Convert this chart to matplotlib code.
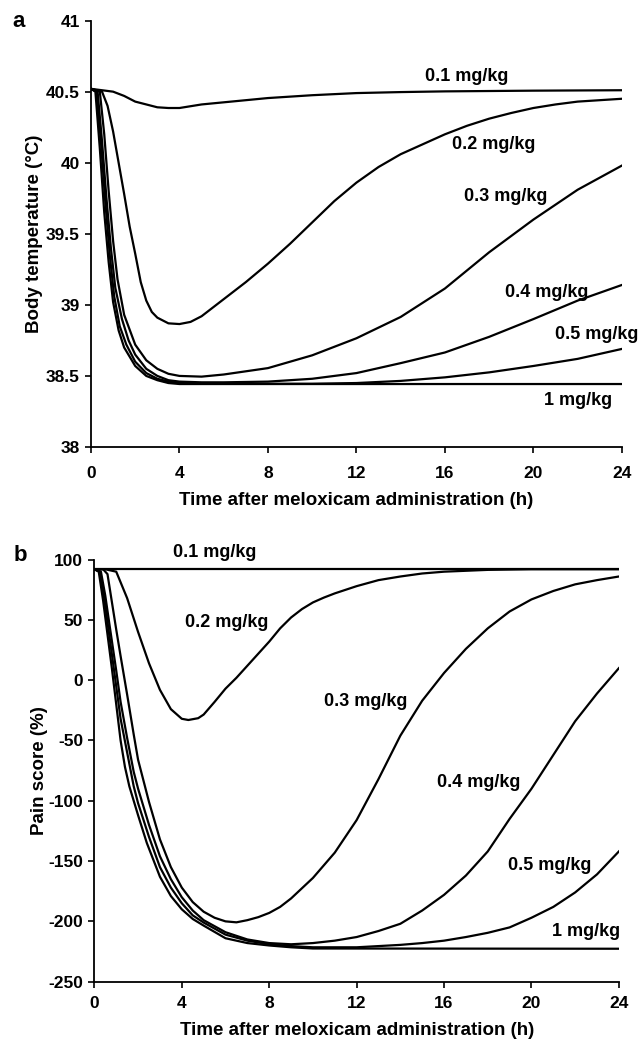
import numpy as np
import matplotlib
matplotlib.use("Agg")
import matplotlib.pyplot as plt

plt.rcParams['font.family'] = ['Liberation Sans', 'DejaVu Sans']
plt.rcParams['font.weight'] = 'bold'
plt.rcParams['axes.unicode_minus'] = False

# ---- panel a : body temperature (deg C) ----
t_01a = [0, 0.5, 1, 1.5, 2, 2.5, 3, 3.5, 4, 5, 6, 8, 10, 12, 14, 16, 20, 24]
T_01 = [40.52, 40.51, 40.5, 40.47, 40.43, 40.41, 40.39, 40.385, 40.385, 40.41, 40.425,
        40.455, 40.475, 40.49, 40.497, 40.502, 40.507, 40.51]

t_02a = [0, 0.5, 0.75, 1, 1.25, 1.5, 1.75, 2, 2.25, 2.5, 2.75, 3, 3.5, 4, 4.5, 5, 6, 7, 8,
         9, 10, 11, 12, 13, 14, 15, 16, 17, 18, 19, 20, 21, 22, 23, 24]
T_02 = [40.52, 40.5, 40.4, 40.22, 40.0, 39.78, 39.55, 39.36, 39.16, 39.03, 38.95, 38.91,
        38.87, 38.865, 38.88, 38.92, 39.04, 39.16, 39.29, 39.43, 39.58, 39.73, 39.86,
        39.97, 40.06, 40.13, 40.2, 40.26, 40.31, 40.35, 40.385, 40.41, 40.43, 40.44, 40.45]

t_03a = [0, 0.4, 0.6, 0.8, 1.0, 1.2, 1.5, 2, 2.5, 3, 3.5, 4, 5, 6, 8, 10, 12, 14, 16, 18,
         20, 22, 24]
T_03 = [40.52, 40.5, 40.2, 39.8, 39.45, 39.18, 38.93, 38.72, 38.61, 38.55, 38.515, 38.5,
        38.495, 38.51, 38.555, 38.645, 38.765, 38.915, 39.115, 39.37, 39.6, 39.81, 39.98]

t_04a = [0, 0.3, 0.5, 0.7, 0.9, 1.1, 1.4, 1.7, 2, 2.5, 3, 3.5, 4, 5, 6, 8, 10, 12, 14, 16,
         18, 20, 22, 24]
T_04 = [40.52, 40.5, 40.15, 39.75, 39.4, 39.12, 38.9, 38.75, 38.65, 38.55, 38.5, 38.47,
        38.46, 38.455, 38.455, 38.46, 38.48, 38.52, 38.59, 38.665, 38.775, 38.9, 39.03,
        39.14]

t_05a = [0, 0.25, 0.45, 0.65, 0.85, 1.05, 1.3, 1.6, 2, 2.5, 3, 3.5, 4, 5, 8, 10, 12, 14,
         16, 18, 20, 22, 24]
T_05 = [40.52, 40.5, 40.15, 39.72, 39.35, 39.06, 38.85, 38.72, 38.6, 38.52, 38.48, 38.46,
        38.45, 38.445, 38.445, 38.445, 38.45, 38.465, 38.49, 38.525, 38.57, 38.62, 38.69]

t_1a = [0, 0.2, 0.4, 0.6, 0.8, 1.0, 1.25, 1.5, 2, 2.5, 3, 3.5, 4, 24]
T_1 = [40.52, 40.5, 40.1, 39.65, 39.3, 39.02, 38.82, 38.7, 38.57, 38.5, 38.47, 38.45,
       38.443, 38.443]

# ---- panel b : pain score (%) ----
t_01b = [0, 24]
P_01 = [92, 92]

t_02b = [0, 0.5, 1, 1.5, 2, 2.5, 3, 3.5, 4, 4.3, 4.75, 5, 5.5, 6, 6.5, 7, 7.5, 8, 8.5, 9,
         9.5, 10, 10.5, 11, 12, 13, 14, 15, 16, 18, 20, 24]
P_02 = [92, 92, 90, 68, 40, 14, -8, -24, -32, -33, -31.5, -28.5, -18, -7, 2, 12, 22, 32,
        43, 52, 59, 64.5, 68.5, 72, 78, 83, 86, 88.5, 90, 91.5, 92, 92]

t_03b = [0, 0.4, 0.6, 0.8, 1, 1.2, 1.5, 1.8, 2, 2.5, 3, 3.5, 4, 4.5, 5, 5.5, 6, 6.5, 7,
         7.5, 8, 8.5, 9, 10, 11, 12, 13, 14, 15, 16, 17, 18, 19, 20, 21, 22, 23, 24]
P_03 = [92, 92, 88, 65, 42, 20, -12, -45, -66, -101, -132, -155, -172, -184, -192, -197,
        -200, -200.8, -199, -196.5, -193, -188, -181, -164, -143, -116, -82, -46, -17, 6,
        26, 43, 57, 67, 74, 79.5, 83, 86]

t_04b = [0, 0.3, 0.5, 0.7, 1, 1.2, 1.5, 1.8, 2, 2.5, 3, 3.5, 4, 4.5, 5, 6, 7, 8, 9, 10,
         11, 12, 13, 14, 15, 16, 17, 18, 19, 20, 21, 22, 23, 24]
P_04 = [92, 90, 70, 45, 8, -18, -48, -76, -90, -120, -146, -165, -180, -191, -199, -209,
        -215, -218, -219, -218, -216, -213, -208, -202, -191, -178, -162, -142, -115, -90,
        -62, -34, -11, 10]

t_05b = [0, 0.25, 0.45, 0.7, 1, 1.2, 1.5, 1.8, 2, 2.5, 3, 3.5, 4, 4.5, 5, 6, 7, 8, 9, 10,
         12, 14, 15, 16, 17, 18, 19, 20, 21, 22, 23, 24]
P_05 = [92, 90, 68, 35, -5, -32, -60, -88, -102, -130, -155, -172, -185, -195, -201, -211,
        -216, -219, -220.5, -221.5, -221.5, -219.5, -218, -216, -213, -209.5, -205, -197,
        -188, -176, -161, -142]

t_1b = [0, 0.2, 0.4, 0.6, 0.8, 1, 1.2, 1.4, 1.6, 1.8, 2, 2.4, 3, 3.5, 4, 4.5, 5, 6, 7, 8,
        9, 10, 24]
P_1 = [92, 90, 66, 38, 10, -20, -50, -72, -88, -100, -112, -135, -163, -179, -190, -198,
       -203.5, -214, -218, -220, -221.5, -222.5, -222.7]

doses = ['0.1 mg/kg', '0.2 mg/kg', '0.3 mg/kg', '0.4 mg/kg', '0.5 mg/kg', '1 mg/kg']
# label anchors (time, value)
lab_a = [(17.0, 40.61), (18.2, 40.13), (18.75, 39.76), (20.6, 39.09), (22.85, 38.79), (22.0, 38.33)]
lab_b = [(5.5, 105.8), (6.05, 48), (12.4, -18), (17.6, -85), (20.85, -154), (22.5, -208.6)]

curves_a = [(t_01a, T_01), (t_02a, T_02), (t_03a, T_03), (t_04a, T_04), (t_05a, T_05), (t_1a, T_1)]
curves_b = [(t_01b, P_01), (t_02b, P_02), (t_03b, P_03), (t_04b, P_04), (t_05b, P_05), (t_1b, P_1)]

fig = plt.figure(figsize=(6.42, 10.4), dpi=100)
ax1 = fig.add_axes([0.1417, 0.5702, 0.827, 0.41])
ax2 = fig.add_axes([0.147, 0.0561, 0.817, 0.4058])

def style(ax, xtpad, xpad):
    for s in ('top', 'right'):
        ax.spines[s].set_visible(False)
    for s in ('left', 'bottom'):
        ax.spines[s].set_linewidth(1.3)
    ax.tick_params(direction='out', length=4, width=1.2, labelsize=12.5, pad=4)
    ax.tick_params(axis='x', pad=xtpad)
    for lab in ax.get_xticklabels() + ax.get_yticklabels():
        lab.set_fontweight('bold')
    ax.set_xlim(0, 24)
    ax.set_xticks([0, 4, 8, 12, 16, 20, 24])
    ax.set_xlabel('Time after meloxicam administration (h)', fontsize=13.5,
                  fontweight='bold', labelpad=xpad)

for (t, v) in curves_a:
    ax1.plot(t, v, color='black', lw=1.6)
for d, (x, y) in zip(doses, lab_a):
    ax1.text(x, y, d, ha='center', va='center', fontsize=13, fontweight='bold')
ax1.set_ylim(38, 41)
ax1.set_yticks([38, 38.5, 39, 39.5, 40, 40.5, 41])
ax1.set_yticklabels(['38', '38.5', '39', '39.5', '40', '40.5', '41'])
ax1.set_ylabel('Body temperature (\u00b0C)', fontsize=13.5, fontweight='bold', labelpad=2)
style(ax1, 9.8, 8)

for (t, v) in curves_b:
    ax2.plot(t, v, color='black', lw=1.6)
for d, (x, y) in zip(doses, lab_b):
    ax2.text(x, y, d, ha='center', va='center', fontsize=13, fontweight='bold')
ax2.set_ylim(-250, 100)
ax2.set_yticks([-250, -200, -150, -100, -50, 0, 50, 100])
ax2.set_ylabel('Pain score (%)', fontsize=13.5, fontweight='bold', labelpad=0)
style(ax2, 6.5, 8)

fig.text(0.029, 0.979, 'a', fontsize=16, fontweight='bold', va='center', ha='center')
fig.text(0.031, 0.4654, 'b', fontsize=16, fontweight='bold', va='center', ha='center')

fig.savefig('out.png', dpi=100)
